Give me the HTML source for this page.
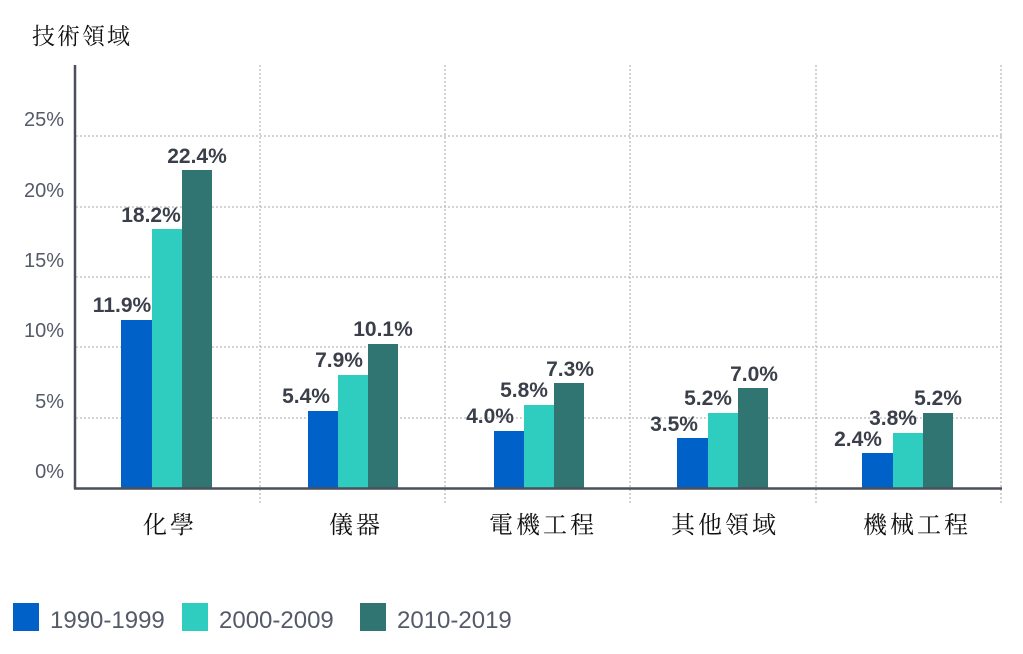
<!DOCTYPE html>
<html><head><meta charset="utf-8"><style>
body{margin:0;background:#fff}
svg{display:block}
.t{font-family:"Liberation Sans",sans-serif;font-size:20px;fill:#555a68}
.v{font-family:"Liberation Sans",sans-serif;font-size:21px;font-weight:bold;fill:#3a3f4a;text-anchor:middle}
.c{font-family:"Liberation Serif","Noto Serif CJK SC",serif;font-size:24px;fill:#111;text-anchor:middle;letter-spacing:3px}
.l{font-family:"Liberation Sans",sans-serif;font-size:24px;fill:#555a68}
</style></head><body>
<svg width="1023" height="654" viewBox="0 0 1023 654">
<text x="32" y="44" class="c" style="text-anchor:start;font-size:23px;letter-spacing:2px">技術領域</text>
<g stroke="#bbb" stroke-width="1.3" stroke-dasharray="2,2">
<line x1="76" y1="418" x2="1002" y2="418"/><line x1="76" y1="347" x2="1002" y2="347"/>
<line x1="76" y1="277" x2="1002" y2="277"/><line x1="76" y1="207" x2="1002" y2="207"/>
<line x1="76" y1="136" x2="1002" y2="136"/>
<line x1="260" y1="65" x2="260" y2="505"/><line x1="445" y1="65" x2="445" y2="505"/>
<line x1="630" y1="65" x2="630" y2="505"/><line x1="816" y1="65" x2="816" y2="505"/>
<line x1="1001" y1="65" x2="1001" y2="505"/>
</g>
<g class="t" text-anchor="end">
<text x="64" y="478">0%</text><text x="64" y="408">5%</text><text x="64" y="337">10%</text>
<text x="64" y="267">15%</text><text x="64" y="197">20%</text><text x="64" y="126">25%</text>
</g>
<g>
<rect x="121" y="320" width="31" height="168" fill="#0062c9"/>
<rect x="152" y="229" width="30" height="259" fill="#2fcdbf"/>
<rect x="182" y="170" width="30" height="318" fill="#317572"/>
<rect x="308" y="411" width="30" height="77" fill="#0062c9"/>
<rect x="338" y="375" width="30" height="113" fill="#2fcdbf"/>
<rect x="368" y="344" width="30" height="144" fill="#317572"/>
<rect x="494" y="431" width="30" height="57" fill="#0062c9"/>
<rect x="524" y="405" width="30" height="83" fill="#2fcdbf"/>
<rect x="554" y="383" width="30" height="105" fill="#317572"/>
<rect x="677" y="438" width="31" height="50" fill="#0062c9"/>
<rect x="708" y="413" width="30" height="75" fill="#2fcdbf"/>
<rect x="738" y="388" width="30" height="100" fill="#317572"/>
<rect x="862" y="453" width="31" height="35" fill="#0062c9"/>
<rect x="893" y="433" width="30" height="55" fill="#2fcdbf"/>
<rect x="923" y="413" width="30" height="75" fill="#317572"/>
</g>
<g class="v">
<text x="122" y="312">11.9%</text><text x="151" y="222">18.2%</text><text x="197" y="163">22.4%</text>
<text x="306" y="403">5.4%</text><text x="339" y="367">7.9%</text><text x="383" y="336">10.1%</text>
<text x="490" y="423">4.0%</text><text x="524" y="397">5.8%</text><text x="570" y="376">7.3%</text>
<text x="674" y="431">3.5%</text><text x="708" y="405">5.2%</text><text x="754" y="381">7.0%</text>
<text x="858" y="446">2.4%</text><text x="893" y="425">3.8%</text><text x="938" y="405">5.2%</text>
</g>
<line x1="75" y1="65" x2="75" y2="489" stroke="#4a4f5a" stroke-width="2.5"/>
<line x1="74" y1="488.5" x2="1002" y2="488.5" stroke="#4a4f5a" stroke-width="2.5"/>
<g class="c">
<text x="170" y="533">化學</text><text x="356" y="533">儀器</text>
<text x="543" y="533">電機工程</text><text x="725" y="533">其他領域</text><text x="917" y="533">機械工程</text>
</g>
<rect x="13" y="603" width="26" height="28" fill="#0062c9"/>
<rect x="182" y="603" width="26" height="28" fill="#2fcdbf"/>
<rect x="360" y="603" width="26" height="28" fill="#317572"/>
<text x="50" y="628" class="l">1990-1999</text>
<text x="219" y="628" class="l">2000-2009</text>
<text x="397" y="628" class="l">2010-2019</text>
</svg>
</body></html>
